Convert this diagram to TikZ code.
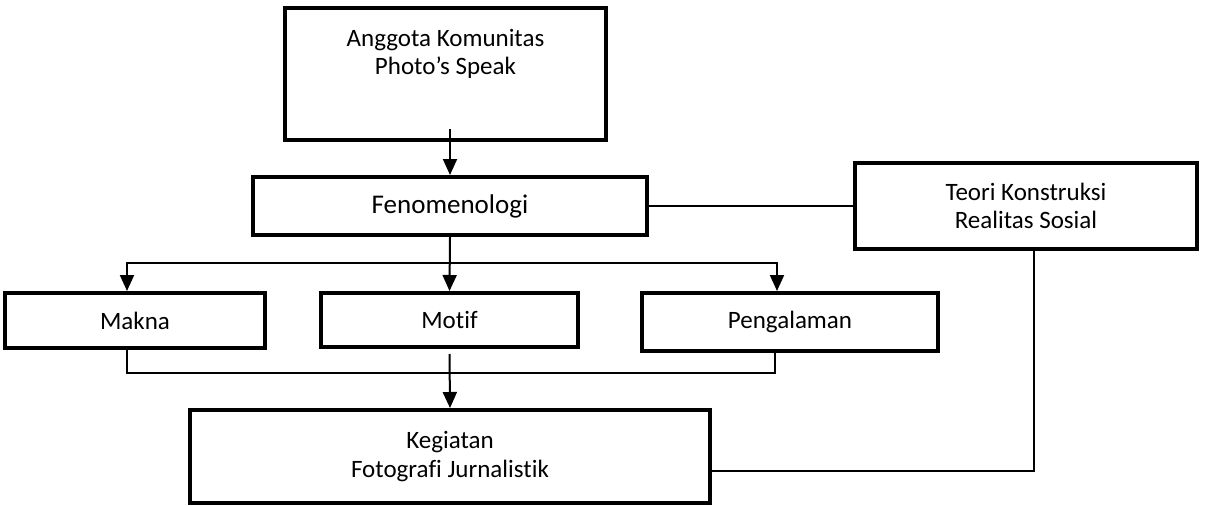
\documentclass[tikz,border=0pt]{standalone}
\usepackage{fontspec}
\setmainfont{Carlito}[Ligatures={NoCommon,NoContextual}]
\usetikzlibrary{arrows.meta,calc}
\tikzset{
  box/.style={draw, line width=4pt, rectangle, inner sep=0pt, align=center,
    font=\fontsize{25}{28.5}\selectfont},
  conn/.style={line width=2pt},
  arr/.style={line width=2pt, -{Triangle[length=16pt,width=14pt]}},
}
\begin{document}
\begin{tikzpicture}[x=1pt,y=-1pt]
\useasboundingbox (0,0) rectangle (1205,506);
\node[box, minimum width=321pt, minimum height=132pt] (anggota) at (445.5,74)
  {\parbox[c][132pt][t]{321pt}{\centering\vspace*{21pt}Anggota Komunitas\\Photo’s Speak}};
\node[box, minimum width=394pt, minimum height=58pt, font=\fontsize{27}{31}\selectfont] (fen) at (450,206) {Fenomenologi};
\node[box, minimum width=342pt, minimum height=86pt] (teori) at (1026,206) {Teori Konstruksi\\Realitas Sosial};
\node[box, minimum width=260pt, minimum height=55pt] (makna) at (135,320.5) {Makna};
\node[box, minimum width=257pt, minimum height=54pt] (motif) at (449.5,320) {Motif};
\node[box, minimum width=296pt, minimum height=58pt] (peng) at (790,322) {Pengalaman};
\node[box, minimum width=520pt, minimum height=93pt] (keg) at (450,456.5) {Kegiatan\\Fotografi Jurnalistik};

\coordinate (split) at (449,263);
\coordinate (merge) at (449,373);

\draw[arr] ($(anggota.south -| fen.north)+(0,-13)$) -- (fen.north);
\draw[conn] (fen.east) -- (fen.east -| teori.west);
\draw[arr] (fen.south) -- (motif.north);
\draw[arr] (split) -| ([xshift=-8pt]makna.north);
\draw[arr] (split) -| ([xshift=-13pt]peng.north);
\draw[conn] ([xshift=-8pt]makna.south) |- (merge) -| ([xshift=-15pt]peng.south);
\draw[arr] ([yshift=-5pt]motif.south) -- (keg.north);
\draw[conn] ([xshift=8pt]teori.south) |- ([yshift=-14.5pt]keg.east);
\end{tikzpicture}
\end{document}
